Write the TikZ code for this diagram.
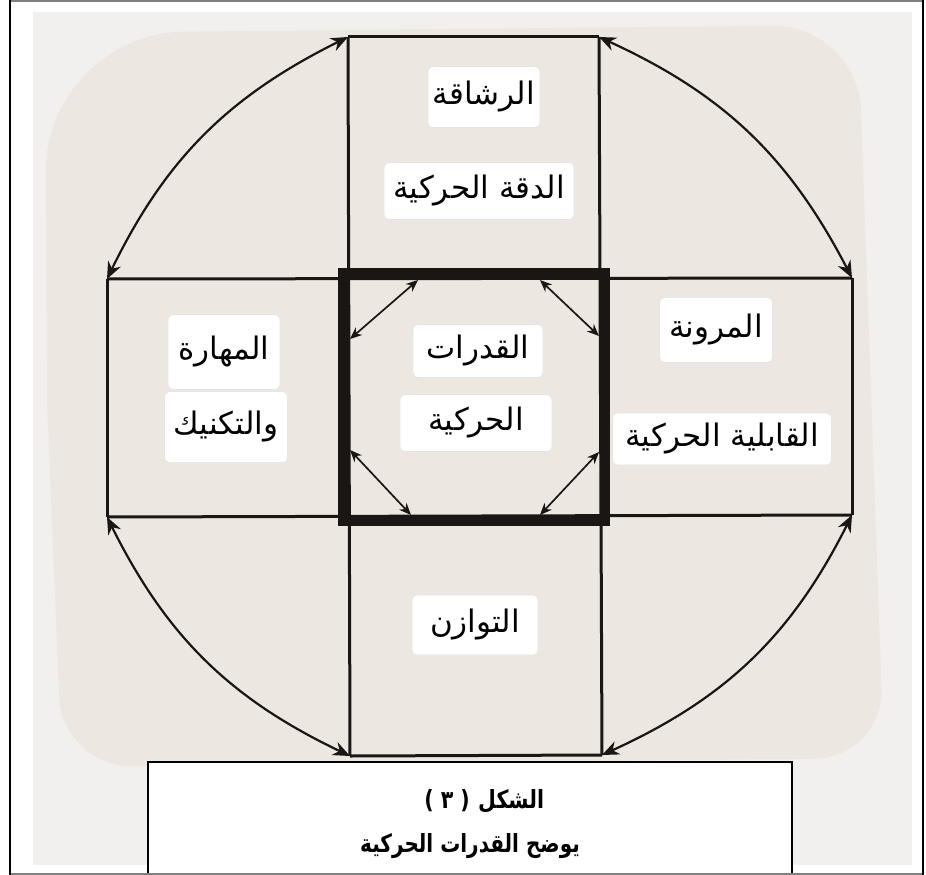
\documentclass[tikz,border=0pt]{standalone}
\usepackage{fontspec}
\newfontfamily\arabicfont[Script=Arabic]{DejaVu Sans}
\newfontfamily\latinfont{DejaVu Sans}
\TeXXeTstate=1
\usetikzlibrary{arrows.meta}
\definecolor{pagebg}{RGB}{241,240,238}
\definecolor{paper}{RGB}{237,231,225}
\definecolor{ink}{RGB}{25,22,20}
\newcommand{\artxt}[1]{\arabicfont\beginR #1\endR}
\begin{document}
\begin{tikzpicture}[x=1pt,y=-1pt,
  chip/.style={fill=white, draw=black!10, line width=0.6pt, rounded corners=5pt, inner sep=0pt,
    font=\fontsize{31}{34}\selectfont},
  thinln/.style={draw=ink, line width=3pt},
  boldsq/.style={draw=ink, line width=10pt},
  arcarrow/.style={draw=ink, line width=2.2pt, {Stealth[length=17pt,width=14pt]}-{Stealth[length=17pt,width=14pt]}},
  dblarrow/.style={draw=ink, line width=1.7pt, {Stealth[length=12pt,width=10pt]}-{Stealth[length=12pt,width=10pt]}},
  captxt/.style={font=\fontsize{25}{28}\selectfont\bfseries, inner sep=0pt}
]
\useasboundingbox (0,0) rectangle (926,875);
\fill[white] (0,0) rectangle (926,875);
\fill[pagebg] (33,12) rectangle (912,865);
\fill[paper] (47,400) [rounded corners=140pt] -- (45,33) [rounded corners=85pt] -- (858,25) [rounded corners=70pt] -- (884,758) -- (62,767) [sharp corners] -- cycle;

% coordinates of the frame
\coordinate (t1) at (348,37);
\coordinate (t2) at (599,37);
\coordinate (s1) at (107,279);
\coordinate (s2) at (852,278);
\coordinate (s3) at (852,515);
\coordinate (s4) at (107,517);
\coordinate (b1) at (350,756);
\coordinate (b2) at (602,755);

% thin rectangles
\draw[thinln] (s1) -- (s2);
\draw[thinln] (s4) -- (s3);
\draw[thinln] (s1) -- (s4);
\draw[thinln] (s2) -- (s3);
\draw[thinln] (t1) -- (t2);
\draw[thinln] (t1) -- (b1);
\draw[thinln] (t2) -- (b2);
\draw[thinln] (b1) -- (b2);

% bold central square
\draw[boldsq] (343,273) rectangle (605,521);

% outer arcs
\draw[arcarrow] (t1) .. controls (228.1,96.5) and (165.5,159.1) .. (s1);
\draw[arcarrow] (t2) .. controls (722.6,93.6) and (788.6,155.8) .. (s2);
\draw[arcarrow] (s4) .. controls (166.5,636.3) and (229.7,698.5) .. (b1);
\draw[arcarrow] (s3) .. controls (791.7,634.9) and (726.5,698.3) .. (b2);

% inner arrows
\coordinate (i1) at (418,280);
\coordinate (i2) at (350,339);
\coordinate (i3) at (540,280);
\coordinate (i4) at (599,336);
\coordinate (i5) at (350,450);
\coordinate (i6) at (411,515);
\coordinate (i7) at (599,452);
\coordinate (i8) at (540,515);
\draw[dblarrow] (i1) -- (i2);
\draw[dblarrow] (i3) -- (i4);
\draw[dblarrow] (i5) -- (i6);
\draw[dblarrow] (i7) -- (i8);

% labels
\node[chip, minimum width=112pt, minimum height=61pt] (agil) at (484,97) {\artxt{الرشاقة}};
\node[chip, minimum width=190pt, minimum height=57pt] (prec) at (479,191) {\artxt{الدقة الحركية}};
\node[chip, minimum width=130pt, minimum height=53pt] (cap1) at (478,351) {\artxt{القدرات}};
\node[chip, minimum width=152pt, minimum height=57pt] (cap2) at (476,423) {\artxt{الحركية}};
\node[chip, minimum width=112pt, minimum height=75pt] (skl1) at (224,352) {\artxt{المهارة}};
\node[chip, minimum width=123pt, minimum height=71pt] (skl2) at (226,427) {\artxt{والتكنيك}};
\node[chip, minimum width=113pt, minimum height=65pt] (flex) at (716,330) {\artxt{المرونة}};
\node[chip, minimum width=219pt, minimum height=52pt] (mob) at (722,439) {\artxt{القابلية الحركية}};
\node[chip, minimum width=126pt, minimum height=60pt] (bal) at (475,625) {\artxt{التوازن}};

% caption box
\draw[black, line width=1.5pt, fill=white] (148,874) -- (148,762) -- (792,762) -- (792,874);
\node[captxt, anchor=base west] (capw) at (478,808) {\scalebox{0.82}[1]{\arabicfont\bfseries\beginR الشكل\endR}};
\node[captxt, anchor=base east] (capn) at (470,808) {\scalebox{0.82}[1]{\latinfont\bfseries ( ٣ )}};
\node[captxt] (capb) at (470,846) {\scalebox{0.8}[1]{\arabicfont\bfseries\beginR يوضح القدرات الحركية\endR}};

% outer frame
\draw[gray, line width=1.5pt] (10,1) -- (923,1);
\draw[gray, line width=1.5pt] (10,874) -- (923,874);
\draw[black, line width=2pt] (10,0) -- (10,875);
\draw[black, line width=1.5pt] (923,0) -- (923,875);
\end{tikzpicture}
\end{document}
